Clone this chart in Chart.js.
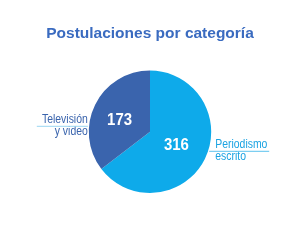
<!DOCTYPE html>
<html><head><meta charset="utf-8">
<script src="https://cdn.jsdelivr.net/npm/chart.js@4/dist/chart.umd.min.js"></script>
<style>html,body{margin:0;padding:0;background:#fff;}#wrap{width:300px;height:251px;}</style>
</head><body><div id="wrap"><canvas id="c" width="300" height="251"></canvas></div>
<script>
const titleText = "Postulaciones por categoría";
const categories = ["Periodismo escrito", "Televisión y video"];
const labelLines = [["Periodismo", "escrito"], ["Televisión", "y video"]];
const values = [316, 173];
const colors = ["#0eaaea", "#3a64ad"];
const labelColors = ["#1aa3e2", "#3a64ad"];

function condensedText(ctx, text, x, y, sx) {
  ctx.save();
  ctx.translate(x, y);
  ctx.scale(sx, 1);
  ctx.fillText(text, 0, 0);
  ctx.restore();
}

const labelPlugin = {
  id: 'sliceLabels',
  afterDatasetsDraw(chart) {
    const ctx = chart.ctx;
    const meta = chart.getDatasetMeta(0);
    ctx.save();
    meta.data.forEach((arc, i) => {
      const p = arc.tooltipPosition();
      ctx.fillStyle = '#ffffff';
      ctx.font = 'bold 17px "Liberation Sans", Arial, sans-serif';
      ctx.textAlign = 'center';
      ctx.textBaseline = 'middle';
      const dx = i === 1 ? -3 : -1, dy = i === 1 ? 2 : 0;
      condensedText(ctx, String(values[i]), p.x + dx, p.y + dy, 0.88);
    });
    const a = meta.data[0];
    const cx = a.x, cy = a.y, r = a.outerRadius;
    ctx.font = '12px "Liberation Sans", Arial, sans-serif';
    ctx.textBaseline = 'middle';
    const sx = 0.87;
    // left label
    ctx.fillStyle = labelColors[1];
    ctx.textAlign = 'right';
    const lx = cx - r - 1, ly = cy - 12;
    condensedText(ctx, labelLines[1][0], lx, ly, sx);
    condensedText(ctx, labelLines[1][1], lx, ly + 12, sx);
    ctx.strokeStyle = '#9ad6f2';
    ctx.lineWidth = 1;
    ctx.beginPath(); ctx.moveTo(lx - 51, ly + 6.5); ctx.lineTo(lx, ly + 6.5); ctx.stroke();
    // right label
    ctx.fillStyle = labelColors[0];
    ctx.textAlign = 'left';
    const rx = cx + r + 4, ry = cy + 13;
    condensedText(ctx, labelLines[0][0], rx, ry, sx);
    condensedText(ctx, labelLines[0][1], rx, ry + 12, sx);
    ctx.strokeStyle = '#5cc2ee';
    ctx.beginPath(); ctx.moveTo(rx - 6, ry + 6.5); ctx.lineTo(rx + 54, ry + 6.5); ctx.stroke();
    ctx.restore();
  }
};

new Chart(document.getElementById('c'), {
  type: 'pie',
  data: {
    labels: categories,
    datasets: [{ data: values, backgroundColor: colors, borderWidth: 0 }]
  },
  options: {
    responsive: false,
    animation: false,
    layout: { padding: { top: 0, bottom: 58, left: 0, right: 0 } },
    plugins: {
      legend: { display: false },
      tooltip: { enabled: false },
      title: {
        display: true,
        text: titleText,
        color: '#3a6bc0',
        font: { family: '"Liberation Sans", Arial, sans-serif', size: 15.5, weight: 'bold', lineHeight: 1.2 },
        padding: { top: 24, bottom: 28 }
      }
    }
  },
  plugins: [labelPlugin]
});
</script></body></html>
